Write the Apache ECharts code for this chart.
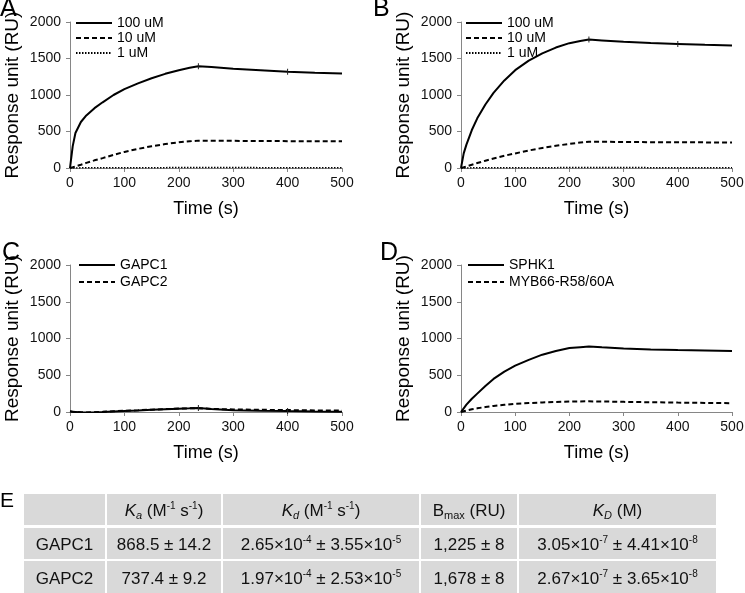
<!DOCTYPE html>
<html>
<head>
<meta charset="utf-8">
<script src="https://cdn.jsdelivr.net/npm/echarts@6/dist/echarts.min.js"></script>
<style>
    html, body { margin: 0; padding: 0; background: #fff; }
    #figure { width: 745px; height: 593px; }
</style>
</head>
<body>
<div id="figure"></div>
<script>
    // time points (s), shared by every sensorgram
    const times = [0, 5, 10, 20, 30, 45, 60, 80, 100, 125, 150, 175, 200, 220, 236, 260, 300, 350, 400, 450, 500];
    // injection-change marks drawn on the curves
    const markTimes = [236, 400];

    // panel A
    const a100 = [0, 300, 480, 630, 720, 820, 900, 1000, 1080, 1160, 1230, 1290, 1340, 1372, 1395, 1385, 1360, 1340, 1320, 1305, 1295];
    const a10 = [0, 10, 22, 45, 70, 105, 135, 180, 220, 262, 298, 328, 352, 366, 375, 374, 372, 370, 368, 366, 365];
    const a1 = [0, 1, 1, 2, 2, 3, 3, 4, 4, 5, 5, 5, 6, 6, 6, 6, 6, 5, 5, 5, 5];
    // panel B
    const b100 = [0, 200, 320, 520, 680, 870, 1030, 1200, 1340, 1470, 1570, 1650, 1710, 1740, 1760, 1748, 1728, 1712, 1700, 1688, 1677];
    const b10 = [0, 10, 22, 45, 68, 100, 130, 168, 200, 240, 275, 305, 330, 348, 360, 359, 357, 354, 352, 351, 350];
    const b1 = [0, 1, 1, 2, 2, 3, 3, 4, 4, 5, 5, 5, 6, 6, 6, 6, 6, 5, 5, 5, 5];
    // panel C
    const gapc1 = [10, 2, 0, -5, -8, -5, 0, 8, 15, 22, 30, 38, 45, 50, 55, 40, 25, 18, 12, 8, 5];
    const gapc2 = [8, 2, 0, -4, -6, -3, 2, 10, 17, 24, 32, 40, 46, 50, 52, 42, 35, 30, 26, 22, 20];
    // panel D
    const sphk1 = [0, 50, 100, 180, 250, 355, 450, 550, 630, 710, 780, 830, 870, 882, 890, 880, 865, 850, 842, 836, 830];
    const myb66 = [0, 10, 20, 38, 50, 68, 82, 98, 113, 122, 130, 137, 142, 144, 145, 143, 138, 133, 128, 124, 120];

    const xTicks = [0, 100, 200, 300, 400, 500];
    const yTicks = [0, 500, 1000, 1500, 2000];

    // panel E table
    const tableHeader = ['', '{i|K}{isub|a} (M{sup|-1} s{sup|-1})', '{i|K}{isub|d} (M{sup|-1} s{sup|-1})', 'B{sub|max} (RU)', '{i|K}{isub|D} (M)'];
    const tableRows = ['GAPC1', 'GAPC2'];
    const kaValues = ['868.5 ± 14.2', '737.4 ± 9.2'];
    const kdValues = ['2.65×10{sup|-4} ± 3.55×10{sup|-5}', '1.97×10{sup|-4} ± 2.53×10{sup|-5}'];
    const bmaxValues = ['1,225 ± 8', '1,678 ± 8'];
    const KDValues = ['3.05×10{sup|-7} ± 4.41×10{sup|-8}', '2.67×10{sup|-7} ± 3.65×10{sup|-8}'];

    const font = '"Liberation Sans", Arial, sans-serif';
    const narrow = '"Liberation Sans Narrow", "Liberation Sans", Arial, sans-serif';
    const axisGray = '#868686';

    const grids = [
        {left: 70, top: 22, width: 272, height: 146},
        {left: 461, top: 22, width: 271, height: 146},
        {left: 70, top: 265, width: 272, height: 147},
        {left: 461, top: 265, width: 271, height: 147}
    ];

    function zip(vals) {
        return times.map((t, i) => [t, vals[i]]);
    }

    function xAxis(i) {
        return {
            type: 'value', gridIndex: i, min: xTicks[0], max: xTicks[xTicks.length - 1], interval: 100,
            name: 'Time (s)', nameLocation: 'middle', nameGap: 32,
            nameTextStyle: {fontFamily: font, fontSize: 18, color: '#000'},
            axisLine: {lineStyle: {color: axisGray, width: 1}},
            axisTick: {show: true, length: 4, lineStyle: {color: axisGray}},
            axisLabel: {fontFamily: font, fontSize: 14, color: '#111', margin: 8, formatter: v => String(v)},
            splitLine: {show: false}
        };
    }

    function yAxis(i) {
        return {
            type: 'value', gridIndex: i, min: yTicks[0], max: yTicks[yTicks.length - 1], interval: 500,
            name: 'Response unit (RU)', nameLocation: 'middle', nameGap: 48, nameRotate: 90,
            nameTextStyle: {fontFamily: font, fontSize: 19, color: '#000'},
            axisLine: {show: true, lineStyle: {color: axisGray, width: 1}},
            axisTick: {show: true, length: 4, lineStyle: {color: axisGray}},
            axisLabel: {fontFamily: font, fontSize: 14, color: '#111', margin: 9, formatter: v => String(v)},
            splitLine: {show: false}
        };
    }

    const solid = {color: '#000', width: 2, type: 'solid'};
    const dashed = {color: '#000', width: 2, type: [5, 3]};
    const dotted = {color: '#000', width: 1.5, type: [1.5, 1.5]};

    function line(name, vals, gi, style, marks) {
        const s = {
            name: name, type: 'line', xAxisIndex: gi, yAxisIndex: gi,
            data: zip(vals), symbol: 'none', smooth: false,
            lineStyle: style, itemStyle: {color: '#000'}, silent: true
        };
        if (marks) {
            s.markPoint = {
                symbol: 'rect', symbolSize: [1, 6], silent: true,
                itemStyle: {color: '#222'}, label: {show: false},
                data: markTimes.map(t => ({coord: [t, vals[times.indexOf(t)]]}))
            };
        }
        return s;
    }

    function legend(names, left, top, gap) {
        return {
            data: names, orient: 'vertical', left: left, top: top, padding: 0,
            itemWidth: 36, itemHeight: 14, itemGap: gap,
            itemStyle: {opacity: 0},
            textStyle: {fontFamily: font, fontSize: 14, color: '#000'},
            selectedMode: false
        };
    }

    // table graphics
    const colEdges = [24, 106, 222, 420, 518, 716];
    const rowEdges = [[494, 525], [528, 559], [561, 593]];
    const rich = {
        i: {fontFamily: narrow, fontSize: 17, fontStyle: 'italic', color: '#111'},
        isub: {fontFamily: narrow, fontSize: 11, fontStyle: 'italic', verticalAlign: 'bottom', color: '#111'},
        sub: {fontFamily: narrow, fontSize: 11, verticalAlign: 'bottom', color: '#111'},
        sup: {fontFamily: narrow, fontSize: 10, verticalAlign: 'top', color: '#111'}
    };
    const tableGraphics = [];
    const tableCells = [tableHeader];
    tableRows.forEach((r, k) => tableCells.push([r, kaValues[k], kdValues[k], bmaxValues[k], KDValues[k]]));
    tableCells.forEach((row, ri) => {
        row.forEach((txt, ci) => {
            const x0 = colEdges[ci] + (ci === 0 ? 0 : 1);
            const x1 = colEdges[ci + 1] - (ci === row.length - 1 ? 0 : 1);
            const y0 = rowEdges[ri][0], y1 = rowEdges[ri][1];
            tableGraphics.push({
                type: 'rect', shape: {x: x0, y: y0, width: x1 - x0, height: y1 - y0},
                style: {fill: '#d9d9d9'}, silent: true
            });
            if (txt) {
                tableGraphics.push({
                    type: 'text', x: (x0 + x1) / 2, y: (y0 + y1) / 2 + 2,
                    style: {
                        text: txt, rich: rich, fontFamily: narrow, fontSize: 17, fill: '#111',
                        lineHeight: 20, align: 'center', verticalAlign: 'middle'
                    },
                    silent: true
                });
            }
        });
    });

    const panelLabels = [['A', 0, 9], ['B', 373, 9], ['C', 2, 253], ['D', 380, 253]].map(p => ({
        type: 'text', x: p[1], y: p[2],
        style: {text: p[0], fontFamily: font, fontSize: 25, fill: '#000', align: 'left', verticalAlign: 'middle'}
    }));
    panelLabels.push({
        type: 'text', x: 0, y: 501,
        style: {text: 'E', fontFamily: font, fontSize: 21, fill: '#000', align: 'left', verticalAlign: 'middle'}
    });

    const $figure = document.getElementById('figure');
    const figure = echarts.init($figure, null, {renderer: 'canvas'});
    figure.setOption({
        animation: false,
        backgroundColor: '#fff',
        grid: grids.map(g => Object.assign({outerBoundsMode: 'none'}, g)),
        xAxis: [0, 1, 2, 3].map(xAxis),
        yAxis: [0, 1, 2, 3].map(yAxis),
        legend: [
            legend(['100 uM', '10 uM', '1 uM'], 75, 16, 1),
            legend(['100 uM ', '10 uM ', '1 uM '], 465, 16, 1),
            legend(['GAPC1', 'GAPC2'], 78, 258, 3),
            legend(['SPHK1', 'MYB66-R58/60A'], 467, 258, 3)
        ],
        series: [
            line('1 uM', a1, 0, dotted),
            line('10 uM', a10, 0, dashed),
            line('100 uM', a100, 0, solid, true),
            line('1 uM ', b1, 1, dotted),
            line('10 uM ', b10, 1, dashed),
            line('100 uM ', b100, 1, solid, true),
            line('GAPC2', gapc2, 2, dashed),
            line('GAPC1', gapc1, 2, solid, true),
            line('MYB66-R58/60A', myb66, 3, dashed),
            line('SPHK1', sphk1, 3, solid)
        ],
        graphic: panelLabels.concat(tableGraphics)
    });
</script>
</body>
</html>
